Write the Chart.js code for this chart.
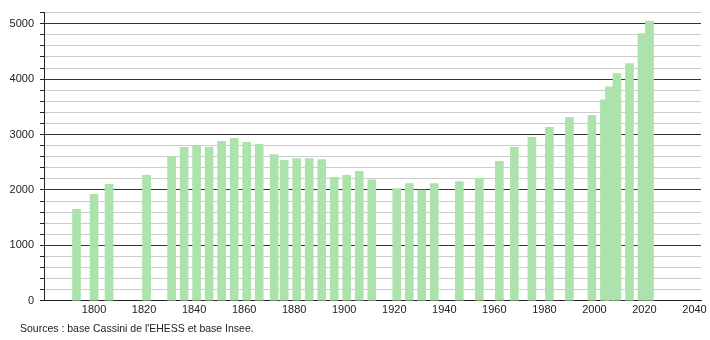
<!DOCTYPE html>
<html>
<head>
<meta charset="utf-8">
<script src="https://cdn.jsdelivr.net/npm/chart.js@4/dist/chart.umd.min.js"></script>
<style>
  body { margin: 0; background: #fff; }
  .wrap { position: relative; width: 710px; height: 340px; }
  .source {
    position: absolute; left: 20px; top: 322px;
    font: 10.5px "Liberation Sans", Arial, sans-serif; color: #222;
  }
</style>
</head>
<body>
<div class="wrap">
  <canvas id="popChart" width="710" height="340"></canvas>
  <div class="source">Sources : base Cassini de l'EHESS et base Insee.</div>
</div>
<script>
// census years and population
const years = [1793, 1800, 1806, 1821, 1831, 1836, 1841, 1846, 1851, 1856, 1861, 1866,
  1872, 1876, 1881, 1886, 1891, 1896, 1901, 1906, 1911, 1921, 1926, 1931, 1936,
  1946, 1954, 1962, 1968, 1975, 1982, 1990, 1999, 2004, 2006, 2009, 2014, 2019, 2022];
const population = [1650, 1920, 2100, 2266, 2608, 2770, 2806, 2775, 2878, 2932, 2860, 2824,
  2638, 2536, 2566, 2566, 2548, 2230, 2266, 2338, 2182, 2027, 2117, 1996, 2117,
  2153, 2210, 2515, 2770, 2950, 3130, 3309, 3342, 3628, 3862, 4101, 4280, 4820, 5048];
const xTicks = [1800, 1820, 1840, 1860, 1880, 1900, 1920, 1940, 1960, 1980, 2000, 2020, 2040];

const ctx = document.getElementById('popChart').getContext('2d');
const chart = new Chart(ctx, {
  type: 'bar',
  data: {
    datasets: [{
      data: years.map((y, i) => ({ x: y, y: population[i] })),
      backgroundColor: 'rgb(172, 226, 172)',
      borderWidth: 0,
      barThickness: 8,
    }],
  },
  options: {
    responsive: false,
    animation: false,
    layout: { padding: { left: 0, top: 10, right: 9, bottom: 20 } },
    plugins: { legend: { display: false }, tooltip: { enabled: false } },
    scales: {
      x: {
        type: 'linear',
        offset: false,
        min: 1780,
        max: 2042.6,
        grid: { display: false, drawTicks: false },
        border: { display: true, color: '#222', width: 1 },
        afterBuildTicks: (s) => { s.ticks = xTicks.map((v) => ({ value: v })); },
        ticks: {
          autoSkip: false,
          maxRotation: 0,
          padding: 3,
          color: '#222',
          font: { family: 'Liberation Sans', size: 11 },
          callback: (v) => String(v),
        },
      },
      y: {
        min: 0,
        max: 5200,
        afterFit: (s) => { s.width = 44; },
        border: { display: true, color: '#222', width: 1 },
        grid: {
          color: (c) => (c.tick && c.tick.value % 1000 === 0 ? '#333' : '#ccc'),
          tickColor: '#222',
          tickLength: 4,
          lineWidth: 1,
        },
        ticks: {
          stepSize: 200,
          autoSkip: false,
          padding: 6,
          color: '#222',
          font: { family: 'Liberation Sans', size: 11 },
          callback: (v) => (v % 1000 === 0 ? String(v) : ''),
        },
      },
    },
  },
});
</script>
</body>
</html>
